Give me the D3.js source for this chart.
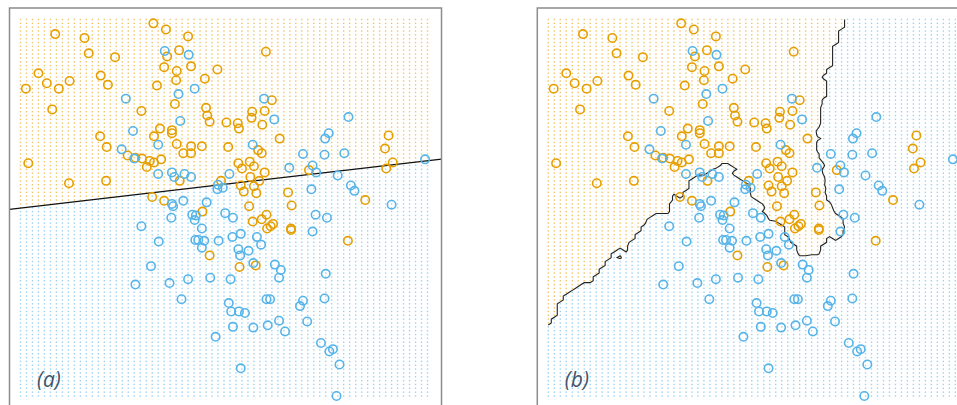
<!DOCTYPE html>
<html>
<head>
<meta charset="utf-8">
<script src="https://cdn.jsdelivr.net/npm/d3@7"></script>
<style>
  body { margin: 0; background: #fff; }
  svg { display: block; }
  .lbl { font-family: "Open Sans", "Noto Sans", sans-serif; font-style: italic; font-size: 21px; fill: #44546a; }
</style>
</head>
<body>
<svg id="chart" width="957" height="405"></svg>
<script>
// mixture data: [x1, x2]
const orangePts = [
  [-0.38,2.85],[-0.17,2.77],[-2.02,2.71],[-1.53,2.66],[0.20,2.68],[-1.46,2.46],[-0.15,2.42],[0.05,2.50],[-1.02,2.41],[1.50,2.48],
  [-0.20,2.28],[0.01,2.23],[0.25,2.29],[0.69,2.25],[-2.30,2.20],[-2.16,2.07],[-1.96,2.00],[-1.78,2.10],[-2.51,2.00],[-1.26,2.17],
  [-1.14,2.05],[0.00,2.11],[0.48,2.13],[-0.32,2.04],[1.60,1.85],[-2.07,1.73],[-0.02,1.80],[0.50,1.75],[-0.58,1.71],[0.52,1.65],
  [0.56,1.57],[0.84,1.56],[1.27,1.70],[1.26,1.62],[1.48,1.71],[1.03,1.55],[1.05,1.48],[1.44,1.53],[-0.27,1.48],[-0.07,1.46],
  [-0.07,1.42],[-1.27,1.38],[-0.37,1.38],[1.73,1.35],[3.55,1.39],[0.01,1.28],[0.25,1.25],[0.43,1.25],[0.25,1.16],[0.12,1.16],
  [-1.16,1.24],[0.87,1.24],[1.37,1.20],[1.43,1.16],[-0.81,1.13],[-0.68,1.10],[-0.57,1.09],[-0.44,1.06],[-0.37,1.04],[-0.49,0.98],
  [-0.25,1.08],[-2.47,1.03],[3.49,1.22],[1.04,1.03],[1.23,1.05],[1.30,0.99],[1.10,0.96],[3.62,1.04],[0.06,0.80],[-1.79,0.77],
  [-1.17,0.80],[1.48,0.91],[1.24,0.85],[1.39,0.80],[2.22,0.94],[3.51,0.96],[0.75,0.80],[1.08,0.74],[1.30,0.73],[1.13,0.66],
  [1.34,0.64],[1.87,0.65],[3.16,0.55],[-0.40,0.59],[-0.20,0.54],[0.44,0.40],[1.22,0.47],[1.93,0.48],[1.51,0.36],[1.43,0.30],
  [1.28,0.27],[1.52,0.18],[1.58,0.21],[1.62,0.24],[1.92,0.16],[1.92,0.18],[0.56,-0.17],[2.87,0.02],[1.06,-0.32],[1.33,-0.30]
];
const bluePts = [
  [-0.19,2.49],[0.21,2.44],[0.31,2.00],[0.04,1.93],[-0.84,1.87],[1.47,1.87],[0.07,1.58],[1.64,1.60],[2.88,1.63],[-0.72,1.45],
  [2.55,1.42],[2.49,1.35],[-0.30,1.27],[1.28,1.27],[-0.91,1.21],[-0.70,1.09],[2.12,1.15],[2.48,1.14],[2.81,1.16],[2.28,1.00],
  [4.16,1.08],[-0.30,0.89],[-0.07,0.91],[-0.03,0.85],[0.14,0.89],[0.25,0.85],[0.89,0.89],[2.34,0.91],[1.89,0.97],[2.70,0.87],
  [0.70,0.75],[0.69,0.69],[0.78,0.71],[2.26,0.69],[2.92,0.74],[2.98,0.67],[-0.07,0.50],[-0.05,0.47],[0.12,0.54],[0.51,0.52],
  [0.27,0.36],[0.33,0.35],[0.31,0.29],[-0.08,0.32],[0.82,0.38],[0.95,0.32],[3.60,0.49],[2.33,0.36],[2.52,0.32],[-0.58,0.21],
  [0.43,0.18],[2.28,0.14],[-0.29,0.01],[0.32,0.03],[0.37,0.03],[0.47,0.02],[0.43,-0.07],[0.71,0.02],[0.94,0.07],[1.08,0.11],
  [1.35,0.07],[1.42,-0.03],[1.04,-0.09],[1.21,-0.11],[1.07,-0.17],[-0.42,-0.31],[1.29,-0.27],[1.65,-0.29],[-0.68,-0.55],[-0.11,-0.53],
  [0.20,-0.48],[0.57,-0.46],[0.91,-0.48],[1.75,-0.36],[1.72,-0.46],[2.50,-0.41],[0.09,-0.74],[1.51,-0.74],[1.57,-0.74],[2.48,-0.73],
  [0.88,-0.79],[0.92,-0.90],[1.05,-0.90],[1.15,-0.92],[2.12,-0.76],[2.07,-0.83],[1.72,-1.02],[2.19,-1.03],[0.95,-1.10],[1.29,-1.11],
  [1.53,-1.08],[1.82,-1.16],[0.66,-1.23],[2.42,-1.31],[2.56,-1.42],[2.62,-1.39],[2.73,-1.59],[1.08,-1.64],[2.68,-2.00]
];

// prediction lattice: x1 = -2.6..4.2 by 0.1, x2 = -2..2.9 by 0.05
const gridX = d3.range(69).map(i => +(-2.6 + i * 0.1).toFixed(2));
const gridY = d3.range(99).map(j => +(-2 + j * 0.05).toFixed(2));

// linear regression boundary (a): x2 = b0 + b1 * x1
const linearCoef = [0.681, 0.0907];
const K = 15;   // neighbours for panel (b)
const panelLabels = ['(a)', '(b)'];

const ORANGE = '#e69f00', BLUE = '#56b4e9';

const svg = d3.select('#chart');
const ys = d3.scaleLinear().domain([-2, 2.9]).range([396, 19.5]);
const panelLeft = [20.5, 548.3];

const pts = orangePts.map(p => ({ x: p[0], y: p[1], c: 1 }))
  .concat(bluePts.map(p => ({ x: p[0], y: p[1], c: 0 })));

// knn fraction of orange on the lattice
const knn = new Float64Array(gridX.length * gridY.length);
gridY.forEach((gy, j) => {
  gridX.forEach((gx, i) => {
    const d = pts.map(p => [(p.x - gx) ** 2 + (p.y - gy) ** 2, p.c]);
    d.sort((a, b) => a[0] - b[0]);
    let s = 0;
    for (let k = 0; k < K; k++) s += d[k][1];
    knn[j * gridX.length + i] = s / K;
  });
});

panelLeft.forEach((left, pi) => {
  const xs = d3.scaleLinear().domain([-2.6, 4.2]).range([left, left + 407]);
  const g = svg.append('g');

  const clipId = 'clip' + pi;
  g.append('clipPath').attr('id', clipId).append('rect')
    .attr('x', left - 11).attr('y', 8).attr('width', 432).attr('height', 400);

  const isOrange = (i, j) => pi === 0
    ? gridY[j] > linearCoef[0] + linearCoef[1] * gridX[i]
    : knn[j * gridX.length + i] > 0.5;

  const cells = [];
  gridY.forEach((gy, j) => gridX.forEach((gx, i) => cells.push({ x: gx, y: gy, o: isOrange(i, j) })));

  g.append('g').selectAll('rect').data(cells).enter().append('rect')
    .attr('x', d => xs(d.x) - 0.7)
    .attr('y', d => ys(d.y) - 0.7)
    .attr('width', 1.4).attr('height', 1.4)
    .attr('fill', d => d.o ? ORANGE : BLUE)
    .attr('opacity', 0.6);

  if (pi === 0) {
    const x0 = xs.invert(left - 11), x1 = xs.invert(left + 421);
    g.append('line')
      .attr('clip-path', `url(#${clipId})`)
      .attr('x1', xs(x0)).attr('y1', ys(linearCoef[0] + linearCoef[1] * x0))
      .attr('x2', xs(x1)).attr('y2', ys(linearCoef[0] + linearCoef[1] * x1))
      .attr('stroke', '#111').attr('stroke-width', 1.3);
  } else {
    const nx = gridX.length, ny = gridY.length;
    const contours = d3.contours().size([nx, ny]).thresholds([0.5])(Array.from(knn));
    const line = d3.line()
      .defined(p => p[0] > 0 && p[0] < nx && p[1] > 0 && p[1] < ny)
      .x(p => xs(-2.6 + (p[0] - 0.5) * 0.1))
      .y(p => ys(-2 + (p[1] - 0.5) * 0.05));
    contours[0].coordinates.forEach(poly => poly.forEach(ring => {
      g.append('path').attr('d', line(ring))
        .attr('fill', 'none').attr('stroke', '#222').attr('stroke-width', 1.1);
    }));
  }

  g.append('g').selectAll('circle').data(pts).enter().append('circle')
    .attr('cx', d => xs(d.x)).attr('cy', d => ys(d.y))
    .attr('r', 4.2)
    .attr('fill', 'none')
    .attr('stroke', d => d.c ? ORANGE : BLUE)
    .attr('stroke-width', 1.6);

  g.append('rect')
    .attr('x', left - 11).attr('y', 8).attr('width', 432).attr('height', 400)
    .attr('fill', 'none').attr('stroke', '#8c8c8c').attr('stroke-width', 1.5);

  g.append('text').attr('class', 'lbl')
    .attr('x', left + 16.5).attr('y', 387)
    .text(panelLabels[pi]);
});
</script>
</body>
</html>
